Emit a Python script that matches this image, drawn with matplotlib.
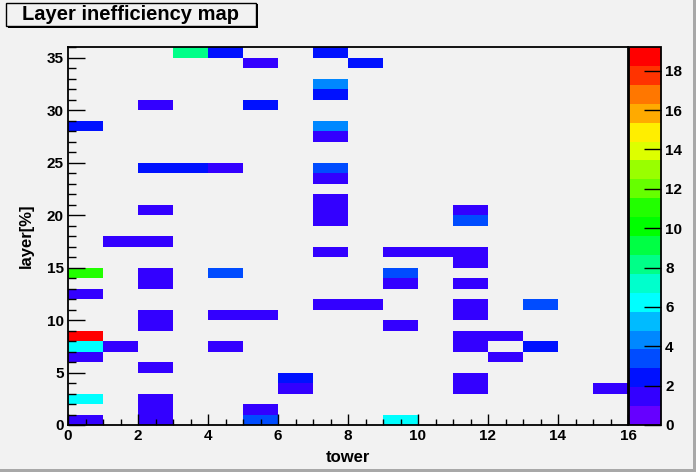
import numpy as np
import matplotlib
matplotlib.use("Agg")
import matplotlib.pyplot as plt
from matplotlib.colors import ListedColormap, Normalize
from matplotlib.patches import Rectangle

plt.rcParams['font.family'] = ['Liberation Sans', 'DejaVu Sans']
plt.rcParams['font.weight'] = 'bold'

# Filled cells of the map: tower, layer, inefficiency
towers = [3, 4, 7, 5, 8, 7, 7, 2, 5, 0, 7, 7, 2, 3, 4, 7, 7, 7, 7, 7, 2, 11, 11,
          1, 2, 7, 9, 10, 11, 11, 0, 2, 4, 9, 2, 9, 11, 0, 7, 8, 11, 13,
          2, 4, 5, 11, 2, 9, 0, 11, 12, 0, 1, 4, 11, 13, 0, 12, 2,
          6, 11, 6, 11, 15, 0, 2, 2, 5, 0, 2, 5, 9]
layers = [35, 35, 35, 34, 34, 32, 31, 30, 30, 28, 28, 27, 24, 24, 24, 24, 23, 21, 20, 19, 20, 20, 19,
          17, 17, 16, 16, 16, 16, 15, 14, 14, 14, 14, 13, 13, 13, 12, 11, 11, 11, 11,
          10, 10, 10, 10, 9, 9, 8, 8, 8, 7, 7, 7, 7, 7, 6, 6, 5,
          4, 4, 3, 3, 3, 2, 2, 1, 1, 0, 0, 0, 0]
values = [8.2, 2.4, 2.4, 1.4, 2.4, 4.3, 2.4, 1.4, 2.4, 2.4, 4.3, 1.4, 2.4, 2.4, 1.4, 3.3, 1.4, 1.4, 1.4, 1.4, 1.4, 1.4, 3.3,
          1.4, 1.4, 1.4, 1.4, 1.4, 1.4, 1.4, 11.0, 1.4, 3.3, 3.3, 1.4, 1.4, 1.4, 1.4, 1.4, 1.4, 1.4, 3.3,
          1.4, 1.4, 1.4, 1.4, 1.4, 1.4, 19.2, 1.4, 1.4, 6.2, 1.4, 1.4, 1.4, 2.4, 1.4, 1.4, 1.4,
          2.4, 1.4, 1.4, 1.4, 1.4, 6.2, 1.4, 1.4, 1.4, 1.4, 1.4, 3.3, 6.2]

n_towers = 16
n_layers = 36
zmax = 19.2

# ROOT-like rainbow palette, 20 levels
palette = ['#6600ff', '#3300ff', '#0011ff', '#004cff', '#0088ff', '#00bbff',
           '#00ffff', '#00ffcc', '#00ff88', '#00ff44', '#00ff00', '#22ff00',
           '#66ff00', '#99ff00', '#ddff00', '#ffee00', '#ffaa00', '#ff7700',
           '#ff3300', '#ff0000']
cmap = ListedColormap(palette)

grid = np.full((n_layers, n_towers), np.nan)
for t, l, v in zip(towers, layers, values):
    grid[l, t] = v

bg = '#f2f2f2'
fig = plt.figure(figsize=(6.96, 4.72), dpi=100, facecolor=bg)
W, H = 696, 472

ax = fig.add_axes([68 / W, 1 - 425 / H, 560 / W, 378 / H], facecolor=bg)
mesh = ax.pcolormesh(np.arange(n_towers + 1), np.arange(n_layers + 1),
                     np.ma.masked_invalid(grid), cmap=cmap,
                     norm=Normalize(0, zmax))
ax.set_xlim(0, 16)
ax.set_ylim(0, 36)
ax.set_xticks(np.arange(0, 17, 2))
ax.set_xticks(np.arange(0, 16.01, 0.5), minor=True)
ax.set_yticks(np.arange(0, 36, 5))
ax.set_yticks(np.arange(0, 37, 1), minor=True)
ax.tick_params(axis='x', which='major', direction='in', length=8, width=1, pad=3, labelsize=11)
ax.tick_params(axis='x', which='minor', direction='in', length=4, width=1)
ax.tick_params(axis='y', which='major', direction='in', length=12, width=1, pad=3, labelsize=11)
ax.tick_params(axis='y', which='minor', direction='in', length=6, width=1)
for s in ax.spines.values():
    s.set_linewidth(1.3)
ax.set_xlabel('tower', fontsize=12, fontweight='bold', labelpad=5)
ax.set_ylabel('layer[%]', fontsize=12, fontweight='bold', labelpad=9)

# palette axis
cax = fig.add_axes([629 / W, 1 - 425 / H, 32 / W, 378 / H])
cb = fig.colorbar(mesh, cax=cax)
cb.set_ticks(np.arange(0, 19, 2))
cb.ax.tick_params(direction='in', length=12, width=1, pad=3, labelsize=11, right=True, left=False)
cb.ax.yaxis.set_minor_locator(matplotlib.ticker.NullLocator())
cb.outline.set_linewidth(1.3)

# title box with shadow
fig.patches.append(Rectangle((8 / W, 1 - 28 / H), 250 / W, 24 / H, transform=fig.transFigure,
                             facecolor='black', edgecolor='none'))
fig.patches.append(Rectangle((6 / W, 1 - 26 / H), 250 / W, 23 / H, transform=fig.transFigure,
                             facecolor=bg, edgecolor='black', linewidth=1))
fig.text(131 / W, 1 - 14.5 / H, 'Layer inefficiency map', ha='center', va='center',
         fontsize=14.5, fontweight='bold')

# canvas bevel
fig.patches.append(Rectangle((0, 0), 1, 3 / H, transform=fig.transFigure,
                             facecolor='#a8a8a8', edgecolor='none'))
fig.patches.append(Rectangle((1 - 3 / W, 0), 3 / W, 1, transform=fig.transFigure,
                             facecolor='#a8a8a8', edgecolor='none'))

fig.savefig('out.png', dpi=100, facecolor=bg)
